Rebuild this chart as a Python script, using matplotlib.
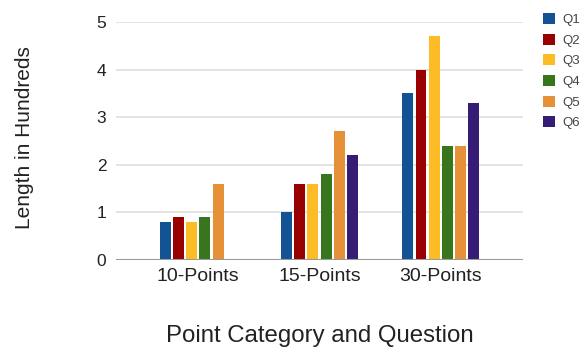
import numpy as np
import matplotlib
matplotlib.use('Agg')
from matplotlib import pyplot as plt

categories = ['10-Points', '15-Points', '30-Points']
questions = ['Q1', 'Q2', 'Q3', 'Q4', 'Q5', 'Q6']
q1 = [0.8, 1.0, 3.5]
q2 = [0.9, 1.6, 4.0]
q3 = [0.8, 1.6, 4.7]
q4 = [0.9, 1.8, 2.4]
q5 = [1.6, 2.7, 2.4]
q6 = [0.0, 2.2, 3.3]
colors = ['#135293', '#990000', '#fbbc26', '#38761d', '#e69138', '#351c75']

plt.rcParams['font.family'] = ['Liberation Sans', 'DejaVu Sans']
text_color = '#222222'

fig = plt.figure(figsize=(5.86, 3.52), dpi=100)
ax = fig.add_axes([0.198, 0.2614, 0.6945, 0.676])

x = np.arange(len(categories))
stride = 0.109
width = 0.09
series = [q1, q2, q3, q4, q5, q6]
for i, (vals, c, q) in enumerate(zip(series, colors, questions)):
	offset = (i - 2.5) * stride
	ax.bar(x + offset, vals, width=width, color=c, label=q, zorder=3)

ax.set_xlim(-0.678, 2.678)
ax.set_ylim(0, 5)
ax.set_yticks([0, 1, 2, 3, 4, 5])
ax.set_xticks(x)
ax.set_xticklabels(categories)
ax.tick_params(axis='y', length=0, pad=7, labelsize=12.5, labelcolor=text_color)
ax.tick_params(axis='x', length=0, pad=6, labelsize=14, labelcolor=text_color)

for s in ax.spines.values():
	s.set_visible(False)
ax.grid(axis='y', color='#e0e0e0', linewidth=1.3, zorder=0)
ax.axhline(0, color='#9a9a9a', linewidth=1.5, zorder=4)

fig.text(0.545, 0.028, 'Point Category and Question', ha='center', va='baseline',
	fontsize=17.3, color=text_color)
fig.text(0.041, 0.608, 'Length in Hundreds', ha='center', va='center',
	rotation=90, fontsize=15, color=text_color)

fig.legend(loc='upper left', bbox_to_anchor=(0.918, 0.978), frameon=False,
	fontsize=9.5, handlelength=0.9, handleheight=0.9, handletextpad=0.55,
	labelspacing=0.58, labelcolor='#444444', borderaxespad=0)

fig.savefig('out.png', dpi=100, facecolor='white')
